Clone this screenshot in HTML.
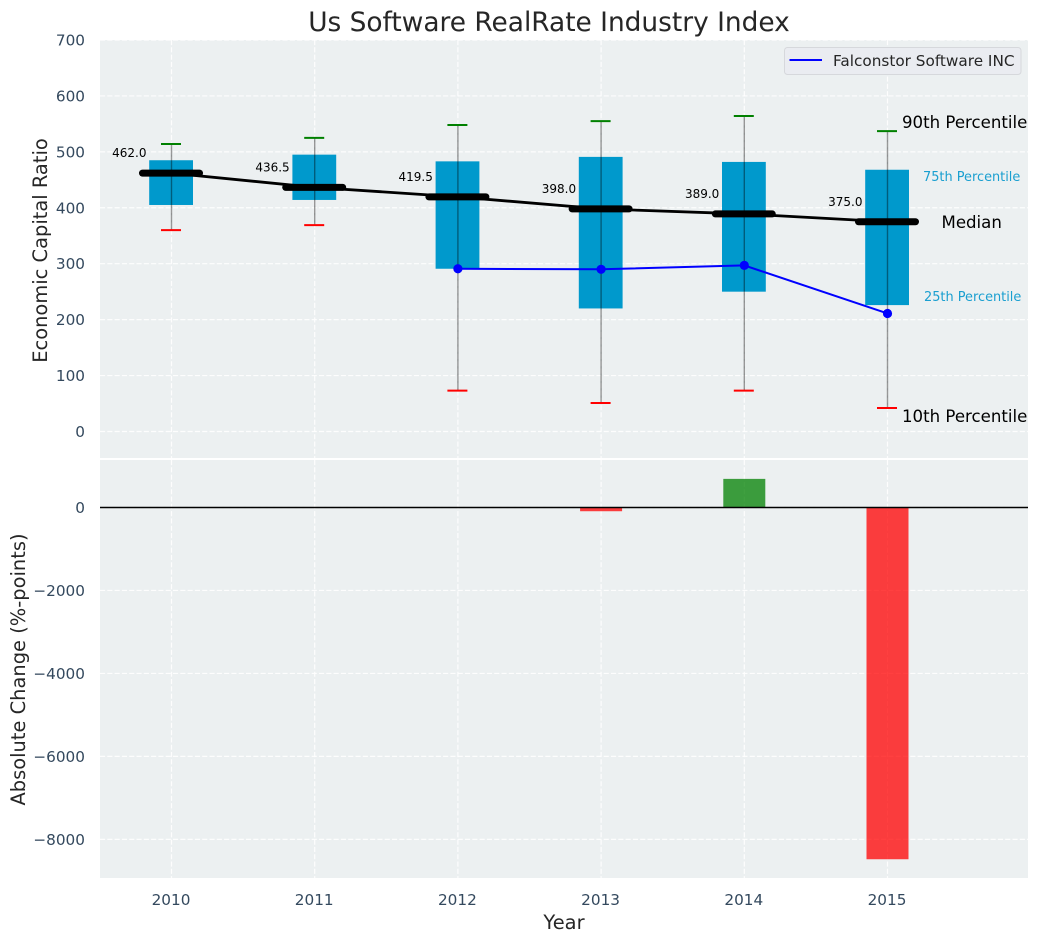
<!DOCTYPE html>
<html>
<head>
<meta charset="utf-8">
<title>Us Software RealRate Industry Index</title>
<style>
html,body{margin:0;padding:0;background:#fff;width:1039px;height:942px;overflow:hidden}
svg{display:block}
text{font-family:"DejaVu Sans","Liberation Sans",sans-serif}
</style>
</head>
<body>
<svg id="chart" xmlns="http://www.w3.org/2000/svg" width="1039" height="942" viewBox="0 0 1039 942"></svg>
<script>
const years = [2010, 2011, 2012, 2013, 2014, 2015];
const p90 = [514, 525, 548, 555, 564, 537];
const p75 = [485, 495, 483, 491, 482, 468];
const medians = [462.0, 436.5, 419.5, 398.0, 389.0, 375.0];
const p25 = [405, 414, 291, 220, 250, 226];
const p10 = [360, 369, 73, 51, 73, 42];
const company = [null, null, 291, 290, 297, 211];
const changes = [0, 0, 0, -90, 690, -8480];
const topTicks = [0, 100, 200, 300, 400, 500, 600, 700];
const bottomTicks = [0, -2000, -4000, -6000, -8000];

const svg = document.getElementById('chart');
const NS = 'http://www.w3.org/2000/svg';
const L = 100, R = 1028, T1 = 40, B1 = 458, T2 = 460, B2 = 878;
const x = v => 171.5 + (v - 2010) * 143.2;
const y1 = v => 431.5 - v * 0.5593;
const y2 = v => 507.5 - v * 0.04148;
const barH = v => Math.abs(y2(v) - y2(0));

function mk(tag, attrs, parent, txt) {
  const e = document.createElementNS(NS, tag);
  for (const k in attrs) e.setAttribute(k, attrs[k]);
  if (txt !== undefined) e.textContent = txt;
  (parent || svg).appendChild(e);
  return e;
}
let el;

const defs = mk('defs', {});
const c1 = mk('clipPath', {id: 'clip-top'}, defs);
mk('rect', {x: L, y: T1, width: R - L, height: B1 - T1}, c1);
const c2 = mk('clipPath', {id: 'clip-bottom'}, defs);
mk('rect', {x: L, y: T2, width: R - L, height: B2 - T2}, c2);

el = mk('rect', {x: L, y: T1, width: R - L, height: B1 - T1, fill: '#ecf0f1'});


el = mk('rect', {x: L, y: T2, width: R - L, height: B2 - T2, fill: '#ecf0f1'});



const grid = {stroke: '#ffffff', 'stroke-width': 1.2, 'stroke-dasharray': '5.1,2.2', opacity: 0.9};
years.forEach(v => {
  el = mk('line', {...grid, x1: x(v), x2: x(v), y1: T1, y2: B1});
  
  
  el = mk('line', {...grid, x1: x(v), x2: x(v), y1: T2, y2: B2});
  
  
  el = mk('text', {x: x(v) - 0.5, y: 905, 'text-anchor': 'middle', 'font-size': 15.28, fill: '#34495e'}, svg, String(v));
  
  
});
topTicks.forEach(v => {
  el = mk('line', {...grid, x1: L, x2: R, y1: y1(v), y2: y1(v)});
  
  
  el = mk('text', {x: 85, y: y1(v) + 5.5, 'text-anchor': 'end', 'font-size': 15.28, fill: '#34495e'}, svg, String(v));
  
  
});
bottomTicks.forEach(v => {
  el = mk('line', {...grid, x1: L, x2: R, y1: y2(v), y2: y2(v)});
  
  
  el = mk('text', {x: 85, y: y2(v) + 5.5, 'text-anchor': 'end', 'font-size': 15.28, fill: '#34495e'}, svg, String(v).replace('-', '\u2212'));
  
  
});

const topPlot = mk('g', {'clip-path': 'url(#clip-top)'});


const bottomPlot = mk('g', {'clip-path': 'url(#clip-bottom)'});



years.forEach((v, i) => {
  el = mk('rect', {x: x(v) - 22.3, y: y1(p75[i]), width: 43.8, height: y1(p25[i]) - y1(p75[i]), fill: '#0099cc'}, topPlot);
  
  
  el = mk('line', {x1: x(v), x2: x(v), y1: y1(p90[i]), y2: y1(p10[i]), stroke: '#000', 'stroke-opacity': 0.4, 'stroke-width': 1.4}, topPlot);
  
  
  el = mk('line', {x1: x(v) - 10.5, x2: x(v) + 9.5, y1: y1(p90[i]), y2: y1(p90[i]), stroke: '#008000', 'stroke-width': 2}, topPlot);
  
  
  el = mk('line', {x1: x(v) - 10.5, x2: x(v) + 9.5, y1: y1(p10[i]), y2: y1(p10[i]), stroke: '#ff0000', 'stroke-width': 2}, topPlot);
  
  
});

el = mk('polyline', {points: years.map((v, i) => x(v) + ',' + y1(medians[i])).join(' '), fill: 'none', stroke: '#000', 'stroke-width': 2.8}, topPlot);



years.forEach((v, i) => {
  el = mk('line', {x1: x(v) - 29, x2: x(v) + 28, y1: y1(medians[i]), y2: y1(medians[i]), stroke: '#000', 'stroke-width': 7, 'stroke-linecap': 'round'}, topPlot);
  
  
  el = mk('text', {x: x(v) - 25, y: y1(medians[i]) - 16, 'text-anchor': 'end', 'font-size': 12, fill: '#000'}, topPlot, medians[i].toFixed(1));
  
  
});

const companyYears = years.filter((v, i) => company[i] !== null);
const companyVals = company.filter(v => v !== null);
el = mk('polyline', {points: companyYears.map((v, i) => x(v) + ',' + y1(companyVals[i])).join(' '), fill: 'none', stroke: '#0000ff', 'stroke-width': 2}, topPlot);


companyYears.forEach((v, i) => {
  el = mk('circle', {cx: x(v), cy: y1(companyVals[i]), r: 4.6, fill: '#0000ff'}, topPlot);
  
  
});

const last = years.length - 1;
const lx = x(years[last]);
el = mk('text', {x: lx + 14.5, y: y1(p90[last]) - 3, 'font-size': 16.6, fill: '#000'}, svg, '90th Percentile');


el = mk('text', {x: lx + 35.5, y: y1(p75[last]) + 11.5, 'font-size': 12.9, fill: '#1a9fd0'}, svg, '75th Percentile');


el = mk('text', {x: lx + 54, y: y1(medians[last]) + 6, 'font-size': 16.6, fill: '#000'}, svg, 'Median');


el = mk('text', {x: lx + 36.5, y: y1(p25[last]) - 4, 'font-size': 12.9, fill: '#1a9fd0'}, svg, '25th Percentile');


el = mk('text', {x: lx + 14.5, y: y1(p10[last]) + 14, 'font-size': 16.6, fill: '#000'}, svg, '10th Percentile');



years.forEach((v, i) => {
  if (!changes[i]) return;
  el = mk('rect', {x: x(v) - 21, y: changes[i] > 0 ? y2(changes[i]) : y2(0), width: 42, height: barH(changes[i]), fill: changes[i] > 0 ? '#008000' : '#ff0000', 'fill-opacity': 0.75}, bottomPlot);
  
  
});
el = mk('line', {x1: L, x2: R, y1: y2(0), y2: y2(0), stroke: '#000', 'stroke-width': 1.4}, bottomPlot);



const legendGroup = mk('g', {});


el = mk('rect', {x: 784.5, y: 47.5, width: 236.5, height: 27, rx: 3, fill: '#eaecf1', stroke: '#d6d8dc', 'stroke-width': 1}, legendGroup);


el = mk('line', {x1: 789.5, x2: 822, y1: 60, y2: 60, stroke: '#0000ff', 'stroke-width': 2}, legendGroup);


el = mk('text', {x: 833, y: 66, 'font-size': 15.28, fill: '#262626'}, legendGroup, 'Falconstor Software INC');



el = mk('text', {x: 549, y: 31, 'text-anchor': 'middle', 'font-size': 26.4, fill: '#262626'}, svg, 'Us Software RealRate Industry Index');


el = mk('text', {x: 564, y: 929, 'text-anchor': 'middle', 'font-size': 19.44, fill: '#262626'}, svg, 'Year');


el = mk('text', {transform: 'translate(47,250.5) rotate(-90)', 'text-anchor': 'middle', 'font-size': 19.44, fill: '#262626'}, svg, 'Economic Capital Ratio');


el = mk('text', {transform: 'translate(25,669.5) rotate(-90)', 'text-anchor': 'middle', 'font-size': 19.44, fill: '#262626'}, svg, 'Absolute Change (%-points)');


</script>
</body>
</html>
